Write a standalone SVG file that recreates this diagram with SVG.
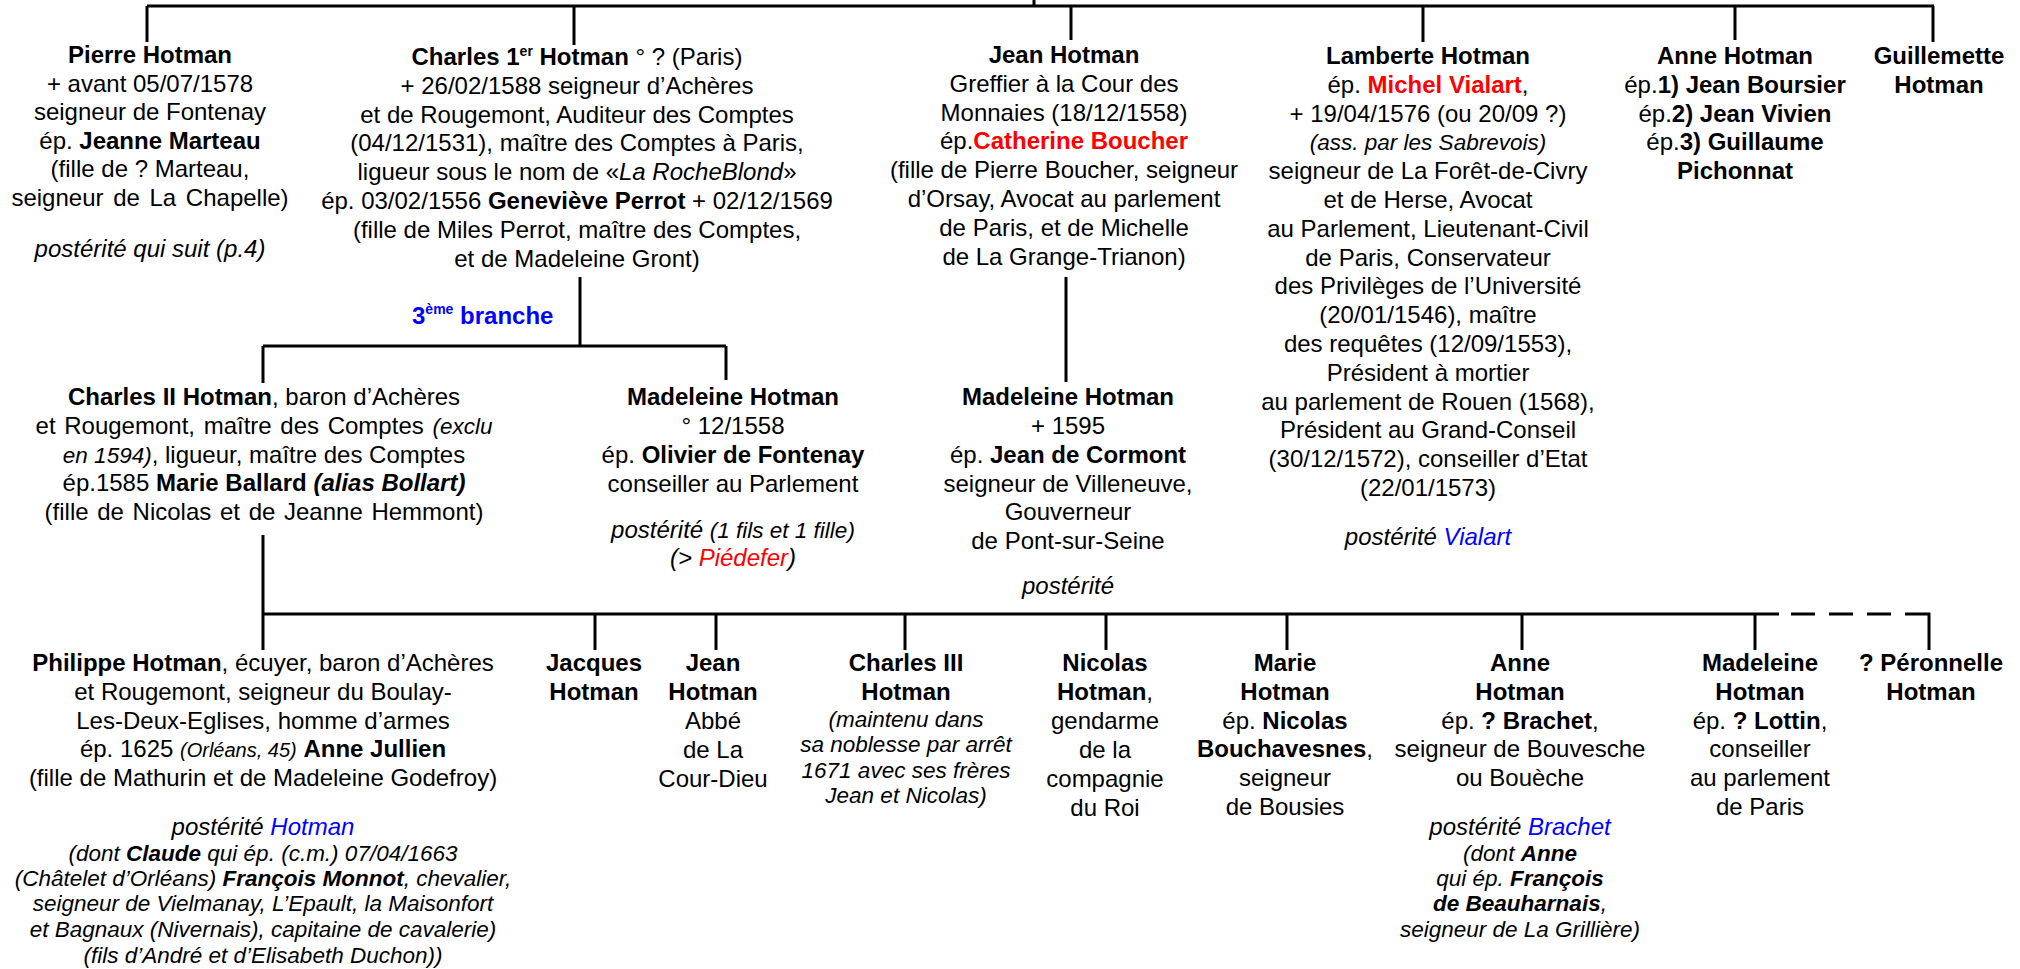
<svg xmlns="http://www.w3.org/2000/svg" width="2020" height="969" viewBox="0 0 2020 969">
<style>
text{font-family:"Liberation Sans",Arial,Helvetica,sans-serif;font-size:24px;fill:#000;text-anchor:middle}
.b{font-weight:bold}
.i{font-style:italic}
.s{font-size:22.5px}
.red{fill:#ff0000}
.blue{fill:#0000ff}
.ln{stroke:#000;stroke-width:3;fill:none}
.dash{stroke:#000;stroke-width:3;fill:none;stroke-dasharray:24 14}
</style>
<rect width="2020" height="969" fill="#fff"/>
<g id="connectors">
<path class="ln" d="M147,6 H1934 M1034,0 V6 M147,6 V42 M574,6 V45 M1071,6 V40 M1423,6 V42 M1735,6 V40 M1933,6 V42"/>
<path class="ln" d="M580,277 V346 M263,346 H726 M263,346 V383 M726,346 V380 M1066,277 V382"/>
<path class="ln" d="M263,535 V650 M263,614 H1779 M595,614 V650 M716,614 V650 M905,614 V650 M1106,614 V650 M1287,614 V650 M1522,614 V650 M1755,614 V650"/>
<path class="dash" d="M1791,614 H1905"/>
<path class="ln" d="M1905,614 H1929 V650"/>
</g>
<g id="pierre">
<text x="150" y="63" class="b">Pierre Hotman</text>
<text x="150" y="92">+ avant 05/07/1578</text>
<text x="150" y="120">seigneur de Fontenay</text>
<text x="150" y="149">ép. <tspan class="b">Jeanne Marteau</tspan></text>
<text x="150" y="177">(fille de ? Marteau,</text>
<text x="150" y="206" word-spacing="3">seigneur de La Chapelle)</text>
<text x="150" y="257" class="i">postérité qui suit (p.4)</text>
</g>
<g id="charles1">
<text x="577" y="65"><tspan class="b">Charles 1</tspan><tspan class="b" font-size="14" dy="-9">er</tspan><tspan class="b" dy="9"> Hotman</tspan> ° ? (Paris)</text>
<text x="577" y="94">+ 26/02/1588 seigneur d’Achères</text>
<text x="577" y="123">et de Rougemont, Auditeur des Comptes</text>
<text x="577" y="151">(04/12/1531), maître des Comptes à Paris,</text>
<text x="577" y="180">ligueur sous le nom de «<tspan class="i">La RocheBlond</tspan>»</text>
<text x="577" y="209">ép. 03/02/1556 <tspan class="b">Geneviève Perrot</tspan> + 02/12/1569</text>
<text x="577" y="238">(fille de Miles Perrot, maître des Comptes,</text>
<text x="577" y="267">et de Madeleine Gront)</text>
</g>
<g id="branche3">
<text x="412" y="324" class="b blue" style="text-anchor:start">3<tspan font-size="14" dy="-10">ème</tspan><tspan dy="10"> branche</tspan></text>
</g>
<g id="jean">
<text x="1064" y="63" class="b">Jean Hotman</text>
<text x="1064" y="92">Greffier à la Cour des</text>
<text x="1064" y="121">Monnaies (18/12/1558)</text>
<text x="1064" y="149">ép.<tspan class="b red">Catherine Boucher</tspan></text>
<text x="1064" y="178">(fille de Pierre Boucher, seigneur</text>
<text x="1064" y="207">d’Orsay, Avocat au parlement</text>
<text x="1064" y="236">de Paris, et de Michelle</text>
<text x="1064" y="265">de La Grange-Trianon)</text>
</g>
<g id="lamberte">
<text x="1428" y="64" class="b">Lamberte Hotman</text>
<text x="1428" y="93">ép. <tspan class="b red">Michel Vialart</tspan>,</text>
<text x="1428" y="122">+ 19/04/1576 (ou 20/09 ?)</text>
<text x="1428" y="150" class="i s">(ass. par les Sabrevois)</text>
<text x="1428" y="179">seigneur de La Forêt-de-Civry</text>
<text x="1428" y="208">et de Herse, Avocat</text>
<text x="1428" y="237">au Parlement, Lieutenant-Civil</text>
<text x="1428" y="266">de Paris, Conservateur</text>
<text x="1428" y="294">des Privilèges de l’Université</text>
<text x="1428" y="323">(20/01/1546), maître</text>
<text x="1428" y="352">des requêtes (12/09/1553),</text>
<text x="1428" y="381">Président à mortier</text>
<text x="1428" y="410">au parlement de Rouen (1568),</text>
<text x="1428" y="438">Président au Grand-Conseil</text>
<text x="1428" y="467">(30/12/1572), conseiller d’Etat</text>
<text x="1428" y="496">(22/01/1573)</text>
<text x="1428" y="545" class="i">postérité <tspan class="blue">Vialart</tspan></text>
</g>
<g id="anne1">
<text x="1735" y="64" class="b">Anne Hotman</text>
<text x="1735" y="93">ép.<tspan class="b">1) Jean Boursier</tspan></text>
<text x="1735" y="122">ép.<tspan class="b">2) Jean Vivien</tspan></text>
<text x="1735" y="150">ép.<tspan class="b">3) Guillaume</tspan></text>
<text x="1735" y="179" class="b">Pichonnat</text>
</g>
<g id="guillemette">
<text x="1939" y="64" class="b">Guillemette</text>
<text x="1939" y="93" class="b">Hotman</text>
</g>
<g id="charles2">
<text x="264" y="405"><tspan class="b">Charles II Hotman</tspan>, baron d’Achères</text>
<text x="264" y="434" word-spacing="2">et Rougemont, maître des Comptes <tspan class="i s">(exclu</tspan></text>
<text x="264" y="463"><tspan class="i s">en 1594)</tspan>, ligueur, maître des Comptes</text>
<text x="264" y="491">ép.1585 <tspan class="b">Marie Ballard <tspan class="i">(alias Bollart)</tspan></tspan></text>
<text x="264" y="520" word-spacing="2">(fille de Nicolas et de Jeanne Hemmont)</text>
</g>
<g id="madeleine-fontenay">
<text x="733" y="405" class="b">Madeleine Hotman</text>
<text x="733" y="434">° 12/1558</text>
<text x="733" y="463">ép. <tspan class="b">Olivier de Fontenay</tspan></text>
<text x="733" y="492">conseiller au Parlement</text>
<text x="733" y="538" class="i">postérité <tspan class="s">(1 fils et 1 fille)</tspan></text>
<text x="733" y="566" class="i">(&gt; <tspan class="red">Piédefer</tspan>)</text>
</g>
<g id="madeleine-cormont">
<text x="1068" y="405" class="b">Madeleine Hotman</text>
<text x="1068" y="434">+ 1595</text>
<text x="1068" y="463">ép. <tspan class="b">Jean de Cormont</tspan></text>
<text x="1068" y="492">seigneur de Villeneuve,</text>
<text x="1068" y="520">Gouverneur</text>
<text x="1068" y="549">de Pont-sur-Seine</text>
<text x="1068" y="594" class="i">postérité</text>
</g>
<g id="philippe">
<text x="263" y="671"><tspan class="b">Philippe Hotman</tspan>, écuyer, baron d’Achères</text>
<text x="263" y="700">et  Rougemont, seigneur du Boulay-</text>
<text x="263" y="729">Les-Deux-Eglises, homme d’armes</text>
<text x="263" y="757">ép. 1625 <tspan class="i" font-size="20">(Orléans, 45)</tspan> <tspan class="b">Anne Jullien</tspan></text>
<text x="263" y="786">(fille de Mathurin et de Madeleine Godefroy)</text>
<text x="263" y="835" class="i">postérité <tspan class="blue">Hotman</tspan></text>
<text x="263" y="861" class="i s">(dont <tspan class="b">Claude</tspan> qui ép. (c.m.) 07/04/1663</text>
<text x="263" y="886" class="i s">(Châtelet d’Orléans) <tspan class="b">François Monnot</tspan>, chevalier,</text>
<text x="263" y="911" class="i s">seigneur de Vielmanay, L’Epault, la Maisonfort</text>
<text x="263" y="937" class="i s">et Bagnaux (Nivernais), capitaine de cavalerie)</text>
<text x="263" y="963" class="i s">(fils d’André et d’Elisabeth Duchon))</text>
</g>
<g id="jacques">
<text x="594" y="671" class="b">Jacques</text>
<text x="594" y="700" class="b">Hotman</text>
</g>
<g id="jean2">
<text x="713" y="671" class="b">Jean</text>
<text x="713" y="700" class="b">Hotman</text>
<text x="713" y="729">Abbé</text>
<text x="713" y="758">de La</text>
<text x="713" y="787">Cour-Dieu</text>
</g>
<g id="charles3">
<text x="906" y="671" class="b">Charles III</text>
<text x="906" y="700" class="b">Hotman</text>
<text x="906" y="727" class="i s">(maintenu dans</text>
<text x="906" y="752" class="i s">sa noblesse par arrêt</text>
<text x="906" y="778" class="i s">1671 avec ses frères</text>
<text x="906" y="803" class="i s">Jean et Nicolas)</text>
</g>
<g id="nicolas">
<text x="1105" y="671" class="b">Nicolas</text>
<text x="1105" y="700"><tspan class="b">Hotman</tspan>,</text>
<text x="1105" y="729">gendarme</text>
<text x="1105" y="758">de la</text>
<text x="1105" y="787">compagnie</text>
<text x="1105" y="816">du Roi</text>
</g>
<g id="marie">
<text x="1285" y="671" class="b">Marie</text>
<text x="1285" y="700" class="b">Hotman</text>
<text x="1285" y="729">ép. <tspan class="b">Nicolas</tspan></text>
<text x="1285" y="757"><tspan class="b">Bouchavesnes</tspan>,</text>
<text x="1285" y="786">seigneur</text>
<text x="1285" y="815">de Bousies</text>
</g>
<g id="anne2">
<text x="1520" y="671" class="b">Anne</text>
<text x="1520" y="700" class="b">Hotman</text>
<text x="1520" y="729">ép. <tspan class="b">? Brachet</tspan>,</text>
<text x="1520" y="757">seigneur de Bouvesche</text>
<text x="1520" y="786">ou Bouèche</text>
<text x="1520" y="835" class="i">postérité <tspan class="blue">Brachet</tspan></text>
<text x="1520" y="861" class="i s">(dont <tspan class="b">Anne</tspan></text>
<text x="1520" y="886" class="i s">qui ép. <tspan class="b">François</tspan></text>
<text x="1520" y="911" class="i s"><tspan class="b">de Beauharnais</tspan>,</text>
<text x="1520" y="937" class="i s">seigneur de La Grillière)</text>
</g>
<g id="madeleine2">
<text x="1760" y="671" class="b">Madeleine</text>
<text x="1760" y="700" class="b">Hotman</text>
<text x="1760" y="729">ép. <tspan class="b">? Lottin</tspan>,</text>
<text x="1760" y="757">conseiller</text>
<text x="1760" y="786">au parlement</text>
<text x="1760" y="815">de Paris</text>
</g>
<g id="peronnelle">
<text x="1931" y="671" class="b">? Péronnelle</text>
<text x="1931" y="700" class="b">Hotman</text>
</g>
</svg>
